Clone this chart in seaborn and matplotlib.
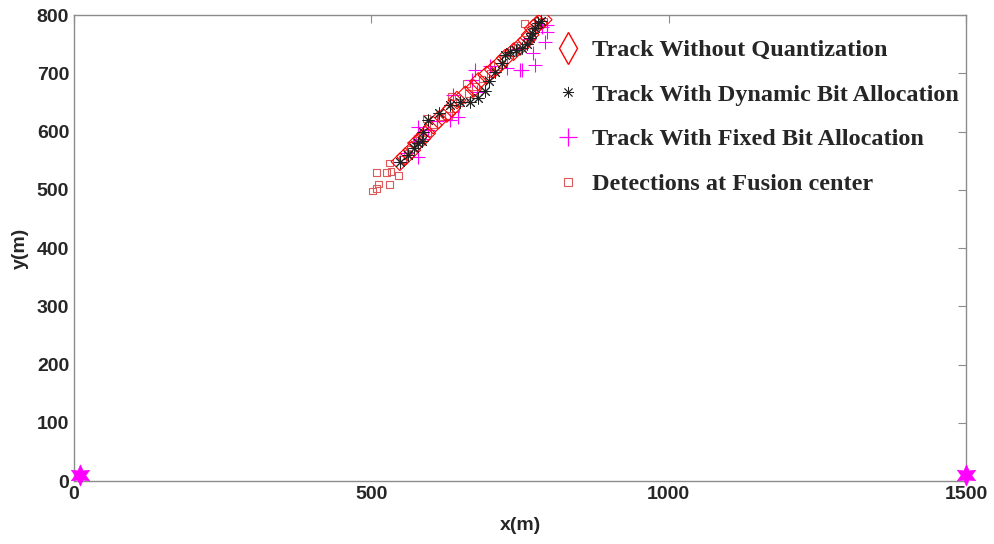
import matplotlib
matplotlib.use('agg')
import matplotlib.pyplot as plt
from matplotlib.lines import Line2D
import seaborn as sns
import pandas as pd

# data
true_x = [548, 557, 568, 576, 585, 593, 604, 613, 627, 635, 644, 658, 672, 680, 694, 705, 714, 725, 739, 750, 761, 767, 772, 781, 789]
true_y = [548, 557, 568, 580, 588, 597, 611, 620, 631, 640, 654, 663, 674, 686, 697, 706, 714, 726, 737, 746, 757, 766, 777, 786, 792]

dyn_x = [548, 562, 571, 579, 585, 587, 596, 613, 632, 649, 666, 680, 691, 697, 708, 719, 725, 733, 744, 753, 761, 767, 770, 775, 781, 786]
dyn_y = [548, 560, 571, 580, 583, 600, 620, 631, 646, 651, 651, 657, 670, 686, 703, 717, 731, 737, 740, 743, 751, 760, 769, 777, 786, 789]

fix_x = [548, 560, 579, 571, 585, 579, 596, 610, 632, 646, 638, 669, 677, 674, 700, 728, 745, 750, 753, 765, 772, 775, 787, 792, 795, 795]
fix_y = [548, 563, 557, 582, 588, 608, 603, 618, 620, 625, 663, 688, 668, 706, 712, 709, 742, 705, 706, 758, 734, 714, 780, 754, 771, 783]

det_x = [502, 508, 509, 512, 525, 530, 531, 533, 545, 552, 560, 566, 575, 581, 593, 594, 605, 618, 630, 635, 641, 648, 660, 664, 675, 686, 700, 712, 722, 735, 745, 758, 762, 770, 780, 790]
det_y = [498, 502, 529, 510, 529, 546, 509, 531, 524, 552, 563, 570, 584, 592, 623, 598, 612, 625, 628, 660, 640, 650, 683, 665, 677, 690, 700, 712, 724, 735, 748, 786, 758, 770, 782, 789]

sensor_x = [10, 1500]
sensor_y = [10, 10]

labels = ["Track Without Quantization", "Track With Dynamic Bit Allocation",
          "Track With Fixed Bit Allocation", "Detections at Fusion center"]

sns.set_style("white")
plt.rcParams['font.family'] = ['Liberation Sans', 'DejaVu Sans']

fig = plt.figure(figsize=(9.95, 5.44), dpi=100)
ax = fig.add_axes([0.0744, 0.1158, 0.8965, 0.8566])

det_col = "#dd5a5a"
sns.scatterplot(x=det_x, y=det_y, marker="s", s=24, facecolor="none",
                edgecolor=det_col, linewidth=0.8, ax=ax, zorder=2)
sns.scatterplot(x=fix_x, y=fix_y, marker="+", s=100, color="#ff00ff",
                linewidth=0.8, ax=ax, zorder=3)
sns.scatterplot(x=true_x, y=true_y, marker="D", s=80, facecolor="none",
                edgecolor="#ff0000", linewidth=0.8, ax=ax, zorder=4)
sns.scatterplot(x=dyn_x, y=dyn_y, marker=(8, 2, 0), s=65, color="#222222",
                linewidth=0.7, ax=ax, zorder=5)
sns.scatterplot(x=sensor_x, y=sensor_y, marker=(6, 1, 0), s=230, color="#ff00ff",
                edgecolor="#ff00ff", linewidth=0.5, ax=ax, zorder=6, clip_on=False)

ax.set_xlim(0, 1500)
ax.set_ylim(0, 800)
ax.set_xticks([0, 500, 1000, 1500])
ax.set_yticks(range(0, 801, 100))

for s in ax.spines.values():
    s.set_color("#8c8c8c")
    s.set_linewidth(1.0)
ax.tick_params(direction="in", length=6, width=0.8, color="#8c8c8c",
               top=True, right=True, labelsize=14, labelcolor="#262626")
for lab in ax.get_xticklabels() + ax.get_yticklabels():
    lab.set_fontweight("bold")

ax.set_xlabel("x(m)", fontsize=14, fontweight="bold", color="#262626", labelpad=10)
ax.set_ylabel("y(m)", fontsize=14, fontweight="bold", color="#262626", labelpad=6)

handles = [
    Line2D([], [], ls="none", marker="d", ms=16, mfc="none", mec="#ff0000", mew=1.0),
    Line2D([], [], ls="none", marker=(8, 2, 0), ms=8, color="#222222", mew=0.6),
    Line2D([], [], ls="none", marker="+", ms=13, color="#ff00ff", mew=0.9),
    Line2D([], [], ls="none", marker="s", ms=6, mfc="none", mec=det_col, mew=0.8),
]
ax.legend(handles, labels, loc="upper left", bbox_to_anchor=(0.512, 0.995),
          frameon=False, labelspacing=0.93, handletextpad=0.3, handlelength=1.3,
          prop={"family": "Liberation Serif", "weight": "bold", "size": 17.5})

plt.savefig("out.png", dpi=100)
